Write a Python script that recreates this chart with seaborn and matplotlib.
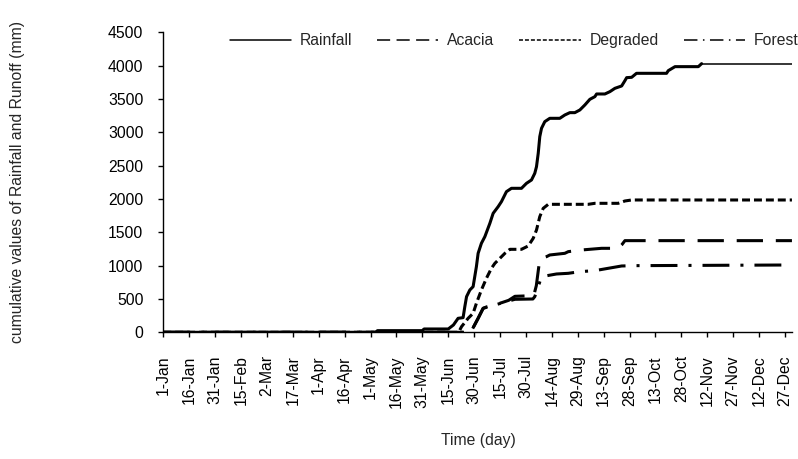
import numpy as np
import pandas as pd
import seaborn as sns
import matplotlib.pyplot as plt

# ---- values (day 0 = 1-Jan, cumulative mm) ----
rain_day = [0, 123, 124, 150, 151, 165, 168, 170.7, 173.6, 174.6, 175.6, 177.5, 179.4,
            181.3, 182.3, 184.2, 186.2, 189.1, 191, 193.9, 195.8, 198.7, 201.6, 207.4,
            210.3, 213.2, 215.1, 216.1, 217.1, 218, 219, 220.9, 223.8, 229.6, 232.5,
            235.4, 238.3, 241.2, 244.1, 247, 249.9, 250.9, 255.7, 258.6, 261.5, 265.4,
            267.3, 268.3, 271.2, 274, 291.4, 292.4, 296.3, 309.8, 311.7, 364]
rain_mm = [0, 0, 25, 25, 50, 50, 110, 210, 220, 385, 535, 635, 685,
           985, 1185, 1335, 1435, 1635, 1785, 1885, 1960, 2110, 2160, 2160,
           2235, 2285, 2385, 2485, 2685, 2935, 3060, 3160, 3210, 3210, 3260,
           3295, 3295, 3335, 3410, 3495, 3535, 3575, 3575, 3610, 3660, 3695,
           3775, 3820, 3825, 3885, 3885, 3925, 3985, 3985, 4030, 4030]

aca_day = [0, 178, 182.3, 185.2, 187.1, 192, 196, 200, 203.6, 214.5, 216, 217.5,
           219, 221.9, 223.8, 232.5, 234.5, 242.2, 253.8, 263.4, 265.4, 267.3, 364]
aca_mm = [0, 0, 210, 360, 380, 415, 445, 480, 540, 550, 700, 1000,
          1110, 1135, 1160, 1185, 1210, 1235, 1260, 1260, 1310, 1375, 1375]

deg_day = [0, 171, 172.7, 176.5, 179.4, 181.3, 184.2, 187.1, 190, 192, 194.9, 197.8,
           200.7, 207.4, 211.3, 214.2, 216.1, 218, 220, 222.9, 246, 249.9, 263.4,
           267.3, 271.2, 364]
deg_mm = [0, 0, 85, 210, 285, 435, 635, 810, 960, 1035, 1110, 1185,
          1245, 1245, 1295, 1410, 1535, 1735, 1860, 1920, 1920, 1935, 1935,
          1970, 1985, 1985]

for_day = [0, 178, 182.3, 185.2, 187.1, 192, 196, 200, 203.6, 214, 215.1, 217.1,
           219, 227.7, 234.5, 241.2, 249.9, 257.6, 265.4, 273.1, 364]
for_mm = [0, 0, 210, 360, 375, 410, 440, 470, 495, 500, 535, 685,
          835, 875, 885, 910, 925, 960, 995, 1000, 1010]

tick_days = list(range(0, 361, 15))
tick_labels = ['1-Jan', '16-Jan', '31-Jan', '15-Feb', '2-Mar', '17-Mar', '1-Apr',
               '16-Apr', '1-May', '16-May', '31-May', '15-Jun', '30-Jun', '15-Jul',
               '30-Jul', '14-Aug', '29-Aug', '13-Sep', '28-Sep', '13-Oct', '28-Oct',
               '12-Nov', '27-Nov', '12-Dec', '27-Dec']
y_ticks = [0, 500, 1000, 1500, 2000, 2500, 3000, 3500, 4000, 4500]

sns.set_theme(style="white")
plt.rcParams['font.family'] = ['Liberation Sans', 'DejaVu Sans']
plt.rcParams['lines.solid_joinstyle'] = 'round'
plt.rcParams['lines.dash_joinstyle'] = 'round'
FS = 11.3

fig = plt.figure(figsize=(7.98, 4.59), dpi=100)
ax = fig.add_axes([0.2046, 0.276, 0.7878, 0.6536])

series = [
    ("Rainfall", rain_day[:-1], rain_mm[:-1], "-"),
    ("Acacia", aca_day, aca_mm, (0, (8.6, 4.2))),
    ("Degraded", deg_day, deg_mm, (0, (2.6, 1.3))),
    ("Forest", for_day, for_mm, (0, (8.8, 3.6, 1.0, 3.6))),
]
for name, d, v, ls in series:
    df = pd.DataFrame({"day": d, "mm": v})
    sns.lineplot(data=df, x="day", y="mm", ax=ax, color="black", lw=2.2,
                 linestyle=ls, label=name, estimator=None, sort=False)

# the last flat stretch of rainfall is drawn thin in the original
sns.lineplot(x=rain_day[-2:], y=rain_mm[-2:], ax=ax, color="black", lw=1.1,
             estimator=None, sort=False, legend=False)

ax.set_xlim(0, 364)
ax.set_ylim(0, 4500)
ax.set_xticks(tick_days)
ax.set_xticklabels(tick_labels, rotation=90)
ax.set_yticks(y_ticks)
ax.set_xlabel("")
ax.set_ylabel("")
ax.tick_params(axis='both', bottom=True, left=True, direction='out', length=3.5,
               width=1.0, color='black', labelsize=FS, labelcolor='black')
ax.tick_params(axis='x', pad=13)
ax.tick_params(axis='y', pad=10.8)
sns.despine(ax=ax)
for s in ['left', 'bottom']:
    ax.spines[s].set_color('black')
    ax.spines[s].set_linewidth(1.0)

handles, labels = ax.get_legend_handles_labels()
leg = ax.legend(handles[:4], labels[:4], loc="center",
                bbox_to_anchor=(514 / 798, 1 - 40.7 / 459),
                bbox_transform=fig.transFigure, ncol=4, frameon=False, fontsize=FS,
                handlelength=3.9, handletextpad=0.55, columnspacing=1.6,
                borderpad=0, borderaxespad=0)
for line in leg.get_lines():
    line.set_linewidth(1.1)

fig.text(478 / 798, 1 - 441 / 459, "Time (day)", ha='center', va='center', fontsize=FS)
fig.text(18 / 798, 1 - 182.3 / 459, "cumulative values of Rainfall and Runoff (mm)",
         rotation=90, ha='center', va='center', fontsize=FS)

fig.savefig("out.png", dpi=100)
